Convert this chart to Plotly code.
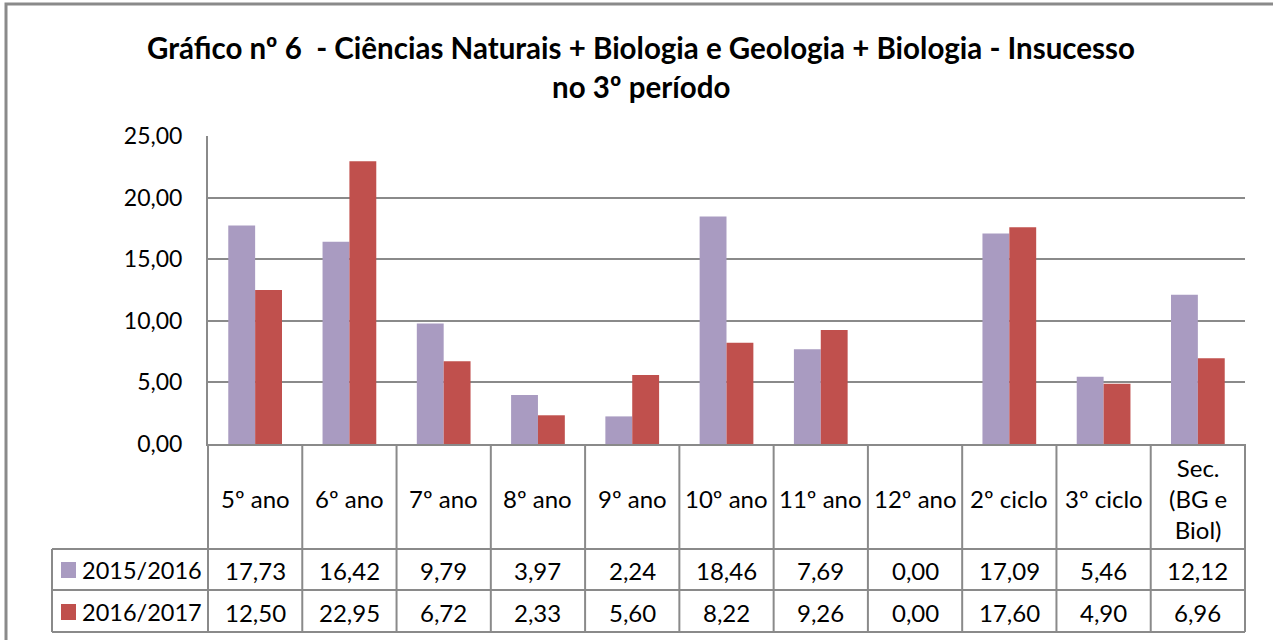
import plotly.graph_objects as go

categories = ["5º ano", "6º ano", "7º ano", "8º ano", "9º ano", "10º ano",
              "11º ano", "12º ano", "2º ciclo", "3º ciclo", "Sec.<br>(BG e<br>Biol)"]
series_names = ["2015/2016", "2016/2017"]
values_2015 = [17.73, 16.42, 9.79, 3.97, 2.24, 18.46, 7.69, 0.00, 17.09, 5.46, 12.12]
values_2016 = [12.50, 22.95, 6.72, 2.33, 5.60, 8.22, 9.26, 0.00, 17.60, 4.90, 6.96]
y_ticks = [0, 5, 10, 15, 20, 25]

colors = ["#A99BC1", "#C0504D"]
FONT = "Lato"
GRID = "#8A8A8A"

W, H = 1273, 640
L, R, T, B = 208, 1245, 136, 444   # plot-area pixel positions
PW, PH = R - L, B - T


def px(xpix):
    return (xpix - L) / PW


def py(ypix):
    return (B - ypix) / PH


def fmt(v):
    return f"{v:.2f}".replace(".", ",")


fig = go.Figure()
for name, vals, col in zip(series_names, [values_2015, values_2016], colors):
    fig.add_trace(go.Bar(x=list(range(len(categories))), y=vals, name=name,
                         marker=dict(color=col, line=dict(width=0))))

shapes = []
annotations = []

# outer chart border (right/bottom edges fall outside the picture)
shapes.append(dict(type="rect", xref="paper", yref="paper",
                   x0=px(6), x1=px(1300), y0=py(680), y1=py(4),
                   line=dict(color="#8A8A8A", width=3), fillcolor="rgba(0,0,0,0)", layer="below"))

n = len(categories)
line_style = dict(color=GRID, width=2)
for i in range(n + 1):
    xp = i / n
    shapes.append(dict(type="line", xref="paper", yref="paper", x0=xp, x1=xp,
                       y0=py(444), y1=py(632), line=line_style))
shapes.append(dict(type="line", xref="paper", yref="paper", x0=px(52), x1=px(52),
                   y0=py(549), y1=py(632), line=line_style))
for yy in [549, 590, 632]:
    shapes.append(dict(type="line", xref="paper", yref="paper", x0=px(52), x1=1,
                       y0=py(yy), y1=py(yy), line=line_style))

TF = 24
for i, c in enumerate(categories):
    annotations.append(dict(x=i, xref="x", y=py(498), yref="paper", text=c,
                            showarrow=False, xanchor="center", yanchor="middle",
                            font=dict(family=FONT, size=TF, color="black")))

row_y = [570, 612]
for r, (name, vals, col) in enumerate(zip(series_names, [values_2015, values_2016], colors)):
    for i, v in enumerate(vals):
        annotations.append(dict(x=i, xref="x", y=py(row_y[r]), yref="paper", text=fmt(v),
                                showarrow=False, xanchor="center", yanchor="middle",
                                font=dict(family=FONT, size=TF, color="black")))
    annotations.append(dict(x=px(80), xref="paper", y=py(row_y[r]), yref="paper", text=name,
                            showarrow=False, xanchor="left", yanchor="middle",
                            font=dict(family=FONT, size=23.5, color="black")))
    shapes.append(dict(type="rect", xref="paper", yref="paper",
                       x0=px(61), x1=px(76), y0=py(row_y[r] + 8), y1=py(row_y[r] - 8),
                       fillcolor=col, line=dict(width=0)))

annotations.append(dict(x=px(641), xref="paper", y=py(47), yref="paper",
                        text="<b>Gráfico nº 6  - Ciências Naturais + Biologia e Geologia + Biologia - Insucesso</b>",
                        showarrow=False, xanchor="center", yanchor="middle",
                        font=dict(family=FONT, size=29.5, color="black")))
annotations.append(dict(x=px(641), xref="paper", y=py(87), yref="paper",
                        text="<b>no 3º período</b>",
                        showarrow=False, xanchor="center", yanchor="middle",
                        font=dict(family=FONT, size=29.5, color="black")))

fig.update_layout(
    width=W, height=H,
    margin=dict(l=L, r=W - R, t=T, b=H - B, autoexpand=False),
    paper_bgcolor="white", plot_bgcolor="white",
    separators=",.",
    barmode="group", bargap=0.43, bargroupgap=0,
    showlegend=False,
    shapes=shapes, annotations=annotations,
    xaxis=dict(range=[-0.5, n - 0.5], showticklabels=False, ticks="", showgrid=False,
               zeroline=False, showline=True, linecolor=GRID, linewidth=2, fixedrange=True),
    yaxis=dict(range=[0, 25], tickvals=y_ticks, tickformat=".2f", showgrid=True,
               gridcolor=GRID, gridwidth=2, zeroline=False, showline=True,
               linecolor=GRID, linewidth=2, ticks="", ticklabelstandoff=19,
               tickfont=dict(family=FONT, size=23, color="black"), fixedrange=True),
)

fig.write_html("out.html", config={"displayModeBar": False},
               post_script="document.body.style.margin='0';document.body.style.overflow='hidden';")
